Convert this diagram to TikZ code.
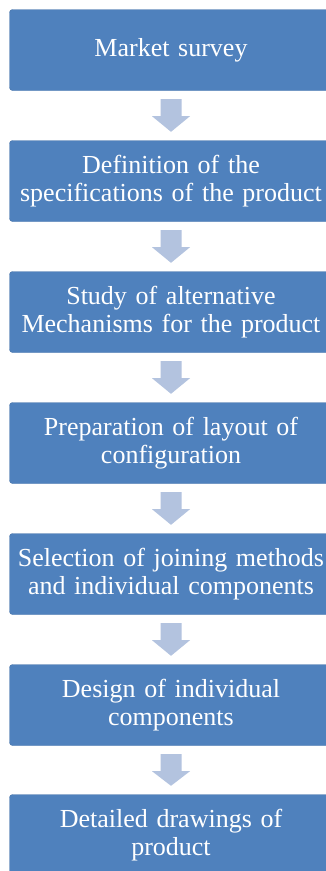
\documentclass[tikz,border=0pt]{standalone}
\usepackage{fontspec}
\setmainfont{Liberation Serif}
\usetikzlibrary{calc}
\definecolor{boxblue}{HTML}{4F81BD}
\definecolor{arrowblue}{HTML}{B3C3DF}
\tikzset{
  stepbox/.style={fill=boxblue, draw=boxblue!90!black, line width=0.4pt, rounded corners=3pt,
    minimum width=323pt, minimum height=81pt, text width=320pt, align=center,
    text=white, inner sep=0pt, font=\fontsize{26}{28}\selectfont},
  flowarrow/.style={fill=arrowblue, draw=none}
}
\newcommand{\blockarrow}[2]{%
  \path[flowarrow] ($(#1.south)+(-10.5pt,-8.5pt)$) -- ($(#1.south)+(10.5pt,-8.5pt)$)
    -- ($(#1.south)+(10.5pt,-25.5pt)$) -- ($(#1.south)+(19pt,-25.5pt)$)
    -- ($(#2.north)+(0,8.5pt)$) -- ($(#1.south)+(-19pt,-25.5pt)$)
    -- ($(#1.south)+(-10.5pt,-25.5pt)$) -- cycle;}
\begin{document}
\begin{tikzpicture}[x=1pt,y=1pt]
\useasboundingbox (0,0) rectangle (326,-871);
\fill[white] (0,0) rectangle (326,-871);
\node[stepbox] (s1) at (171,-50) {Market survey};
\node[stepbox] (s2) at (171,-181) {Definition of the\\specifications of the product};
\node[stepbox] (s3) at (171,-312) {Study of alternative\\Mechanisms for the product};
\node[stepbox] (s4) at (171,-443) {Preparation of layout of\\configuration};
\node[stepbox] (s5) at (171,-574) {Selection of joining methods\\and individual components};
\node[stepbox] (s6) at (171,-705) {Design of individual\\components};
\node[stepbox] (s7) at (171,-835) {Detailed drawings of\\product};
\blockarrow{s1}{s2}
\blockarrow{s2}{s3}
\blockarrow{s3}{s4}
\blockarrow{s4}{s5}
\blockarrow{s5}{s6}
\blockarrow{s6}{s7}
\end{tikzpicture}
\end{document}
